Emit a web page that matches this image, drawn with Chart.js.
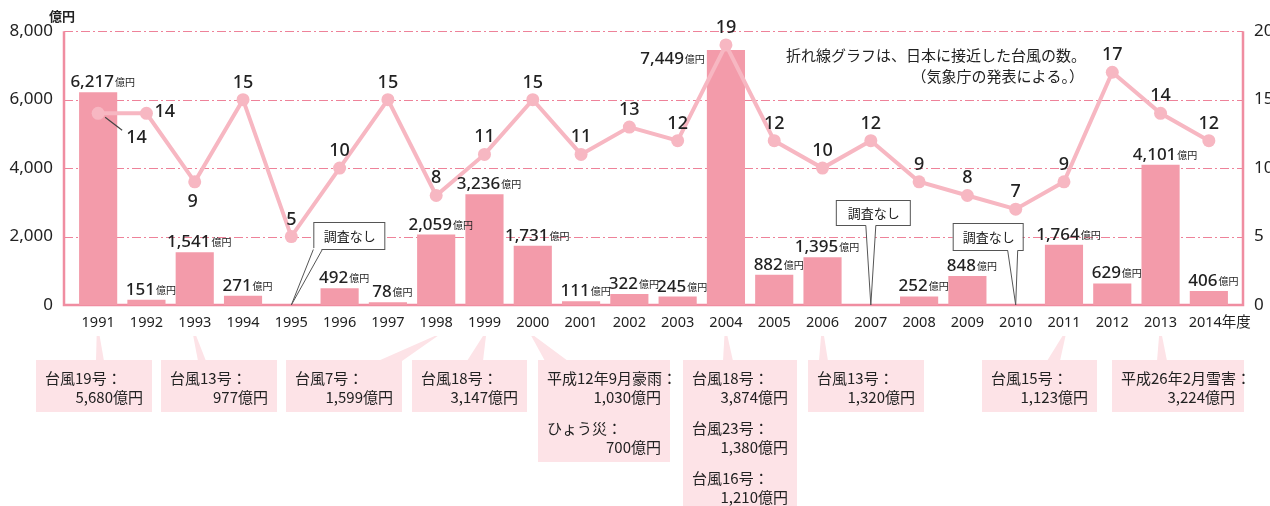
<!DOCTYPE html>
<html><head><meta charset="utf-8">
<script src="https://cdn.jsdelivr.net/npm/chart.js@4.4.1/dist/chart.umd.min.js"></script>
<style>html,body{margin:0;padding:0;background:#fff;overflow:hidden}#wrap{width:1270px;height:506px;position:relative}</style>
</head><body><div id="wrap"><canvas id="c" width="1270" height="506"></canvas></div>
<script>
// ---- data ----
const years = ['1991','1992','1993','1994','1995','1996','1997','1998','1999','2000','2001','2002','2003','2004','2005','2006','2007','2008','2009','2010','2011','2012','2013','2014'];
const damage = [6217,151,1541,271,null,492,78,2059,3236,1731,111,322,245,7449,882,1395,null,252,848,null,1764,629,4101,406];
const typhoons = [14,14,9,15,5,10,15,8,11,15,11,13,12,19,12,10,12,9,8,7,9,17,14,12];
const leftTicks = [0,2000,4000,6000,8000];
const rightTicks = [0,5,10,15,20];
const noSurveyYears = ['1995','2007','2010'];
const noSurveyText = '調査なし';
const unitLabel = '億円';
const yearSuffix = '年度';
const noteLines = ['折れ線グラフは、日本に接近した台風の数。','（気象庁の発表による。）'];
const breakdownYears = ['1991','1993','1998','1999','2000','2004','2006','2011','2013'];
const breakdownItems = [
  [['台風19号：','5,680億円']],
  [['台風13号：','977億円']],
  [['台風7号：','1,599億円']],
  [['台風18号：','3,147億円']],
  [['平成12年9月豪雨：','1,030億円'],['ひょう災：','700億円']],
  [['台風18号：','3,874億円'],['台風23号：','1,380億円'],['台風16号：','1,210億円']],
  [['台風13号：','1,320億円']],
  [['台風15号：','1,123億円']],
  [['平成26年2月雪害：','3,224億円']]
];

// ---- layout / style (not data) ----
const JP = '"Noto Sans CJK JP", "Noto Sans", sans-serif';
const NUM = '"Noto Sans", "Noto Sans CJK JP", sans-serif';
const BAR = '#F39BAA', LINE = '#F7B7C2', GRID = '#EE8299', FRAME = '#F08DA1', BOXF = '#FDE3E7', TXT = '#222';
const boxLayout = [
  {x1:36,x2:152,y2:412,b1:96,b2:104},
  {x1:161,x2:277,y2:412,b1:198,b2:206},
  {x1:286,x2:402,y2:412,b1:378,b2:402},
  {x1:412,x2:527,y2:412,b1:467,b2:483},
  {x1:538,x2:670,y2:462,b1:545,b2:568},
  {x1:683,x2:797,y2:506,b1:723,b2:733},
  {x1:808,x2:924,y2:412,b1:819,b2:828},
  {x1:982,x2:1097,y2:412,b1:1047,b2:1060},
  {x1:1112,x2:1244,y2:412,b1:1157,b2:1167}
];
const noSurveyLayout = [
  {dx1:22,dx2:93,y1:222,y2:249,t1:22,t2:31},
  {dx1:-35,dx2:39,y1:200,y2:225,t1:-5,t2:5},
  {dx1:-63,dx2:7,y1:223,y2:250,t1:-8,t2:2}
];

const decor = {
  id:'decor',
  beforeDatasetsDraw(chart){
    const {ctx, chartArea:a, scales:{y}} = chart;
    const L = a.left-10, R = a.right+10;
    ctx.save();
    ctx.strokeStyle = GRID; ctx.lineWidth = 1.2; ctx.setLineDash([9,3,2,3]);
    leftTicks.forEach(v=>{ if(v===0) return; const py = Math.round(y.getPixelForValue(v))+0.5;
      ctx.beginPath(); ctx.moveTo(L,py); ctx.lineTo(R,py); ctx.stroke(); });
    ctx.setLineDash([]);
    ctx.strokeStyle = FRAME; ctx.lineWidth = 2.5;
    const b = y.getPixelForValue(0), t = y.getPixelForValue(leftTicks[leftTicks.length-1]);
    ctx.beginPath(); ctx.moveTo(L,t); ctx.lineTo(L,b); ctx.lineTo(R,b); ctx.lineTo(R,t); ctx.stroke();
    ctx.restore();
  },
  afterDatasetsDraw(chart){
    const {ctx, scales:{x,y}} = chart;
    ctx.save();
    // bar labels
    const bm = chart.getDatasetMeta(1);
    damage.forEach((v,i)=>{
      if(v==null) return;
      const el = bm.data[i];
      const num = v.toLocaleString('en-US');
      ctx.font = '500 17px '+NUM; const nw = ctx.measureText(num).width;
      ctx.font = '10px '+JP; const sw = ctx.measureText(unitLabel).width;
      let sx, by;
      if (i === 13) { sx = el.x - el.width/2 - 3 - nw - sw; by = el.y + 14; }
      else { sx = el.x - (nw+sw)/2 + 4; by = el.y - 5; }
      ctx.fillStyle = TXT; ctx.textAlign='left'; ctx.textBaseline='alphabetic';
      ctx.font = '500 17px '+NUM; ctx.fillText(num, sx, by);
      ctx.font = '10px '+JP; ctx.fillText(unitLabel, sx+nw+1, by-1);
    });
    // line labels
    const lm = chart.getDatasetMeta(0);
    ctx.font = '500 18px '+NUM; ctx.fillStyle = TXT;
    typhoons.forEach((v,i)=>{
      const p = lm.data[i];
      if (i===0){
        ctx.textAlign='left'; ctx.fillText(String(v), p.x+28, p.y+30);
        ctx.strokeStyle='#444'; ctx.lineWidth=1.2; ctx.beginPath(); ctx.moveTo(p.x+7,p.y+4); ctx.lineTo(p.x+24,p.y+17); ctx.stroke();
      } else if (i===1){
        ctx.textAlign='left'; ctx.fillText(String(v), p.x+8, p.y+4);
      } else if (i===2){
        ctx.textAlign='center'; ctx.fillText(String(v), p.x-2, p.y+25);
      } else {
        ctx.textAlign='center'; ctx.fillText(String(v), p.x, p.y-12);
      }
    });
    // no-survey callouts
    noSurveyYears.forEach((yr,k)=>{
      const tx = x.getPixelForValue(years.indexOf(yr)), ty = y.getPixelForValue(0);
      const s = noSurveyLayout[k];
      const x1 = tx+s.dx1, x2 = tx+s.dx2;
      ctx.fillStyle='#fff'; ctx.strokeStyle='#555'; ctx.lineWidth=1;
      ctx.fillRect(x1,s.y1,x2-x1,s.y2-s.y1);
      ctx.strokeRect(x1+0.5,s.y1+0.5,x2-x1,s.y2-s.y1);
      ctx.beginPath(); ctx.moveTo(tx+s.t1, s.y2-1); ctx.lineTo(tx, ty); ctx.lineTo(tx+s.t2, s.y2-1); ctx.closePath();
      ctx.fill();
      ctx.beginPath(); ctx.moveTo(tx+s.t1, s.y2+0.5); ctx.lineTo(tx, ty); ctx.lineTo(tx+s.t2, s.y2+0.5); ctx.stroke();
      ctx.fillStyle=TXT; ctx.font='13px '+JP; ctx.textAlign='center'; ctx.textBaseline='middle';
      ctx.fillText(noSurveyText,(x1+x2)/2+1,(s.y1+s.y2)/2+1);
      ctx.textBaseline='alphabetic';
    });
    // top note
    ctx.fillStyle=TXT; ctx.font='15px '+JP; ctx.textAlign='right';
    ctx.fillText(noteLines[0],1086,61);
    ctx.fillText(noteLines[1],1084,82);
    // unit label
    ctx.font='bold 13px '+JP; ctx.textAlign='left';
    ctx.fillText(unitLabel,49,21);
    // breakdown boxes
    breakdownYears.forEach((yr,k)=>{
      const b = boxLayout[k];
      const tx = x.getPixelForValue(years.indexOf(yr));
      ctx.fillStyle=BOXF;
      ctx.beginPath(); ctx.moveTo(tx-1.5,336); ctx.lineTo(tx+1.5,336); ctx.lineTo(b.b2,361); ctx.lineTo(b.b1,361); ctx.closePath(); ctx.fill();
      ctx.fillRect(b.x1,360,b.x2-b.x1,b.y2-360);
      ctx.fillStyle=TXT; ctx.font='15px '+JP;
      breakdownItems[k].forEach((it,j)=>{
        const base = 384 + j*50;
        ctx.textAlign='left'; ctx.fillText(it[0], b.x1+9, base);
        ctx.textAlign='right'; ctx.fillText(it[1], b.x2-9, base+19);
      });
    });
    ctx.restore();
  }
};

new Chart(document.getElementById('c'), {
  type:'bar',
  data:{
    labels: years,
    datasets:[
      {type:'line', data: typhoons, yAxisID:'y1', order:0, borderColor: LINE, borderWidth:4,
       pointRadius:6.5, pointBackgroundColor: LINE, pointBorderWidth:0, tension:0},
      {type:'bar', data: damage, yAxisID:'y', order:1, backgroundColor: BAR,
       categoryPercentage:0.79, barPercentage:1}
    ]
  },
  options:{
    responsive:false, animation:false, devicePixelRatio:1,
    layout:{padding:{top:31,left:0,right:0,bottom:0}},
    plugins:{legend:{display:false}, tooltip:{enabled:false}},
    scales:{
      x:{grid:{display:false, drawTicks:false}, border:{display:false},
         ticks:{color:TXT, font:{family:NUM,size:14.5}, padding:9, maxRotation:0, autoSkip:false,
           callback:(v,i)=> i===years.length-1 ? '\u2002\u2002\u2002'+years[i]+yearSuffix : years[i]},
         afterFit:s=>{s.height=201;}},
      y:{position:'left', min:0, max:8000, grid:{display:false, drawTicks:false}, border:{display:false},
         afterBuildTicks:s=>{s.ticks = leftTicks.map(v=>({value:v}));},
         ticks:{color:TXT, font:{family:NUM,size:17}, padding:21, callback:v=>v.toLocaleString('en-US')},
         afterFit:s=>{s.width=74;}},
      y1:{position:'right', min:0, max:20, grid:{display:false, drawTicks:false}, border:{display:false},
         afterBuildTicks:s=>{s.ticks = rightTicks.map(v=>({value:v}));},
         ticks:{color:TXT, font:{family:NUM,size:17}, padding:21},
         afterFit:s=>{s.width=37;}}
    }
  },
  plugins:[decor]
});
</script></body></html>
